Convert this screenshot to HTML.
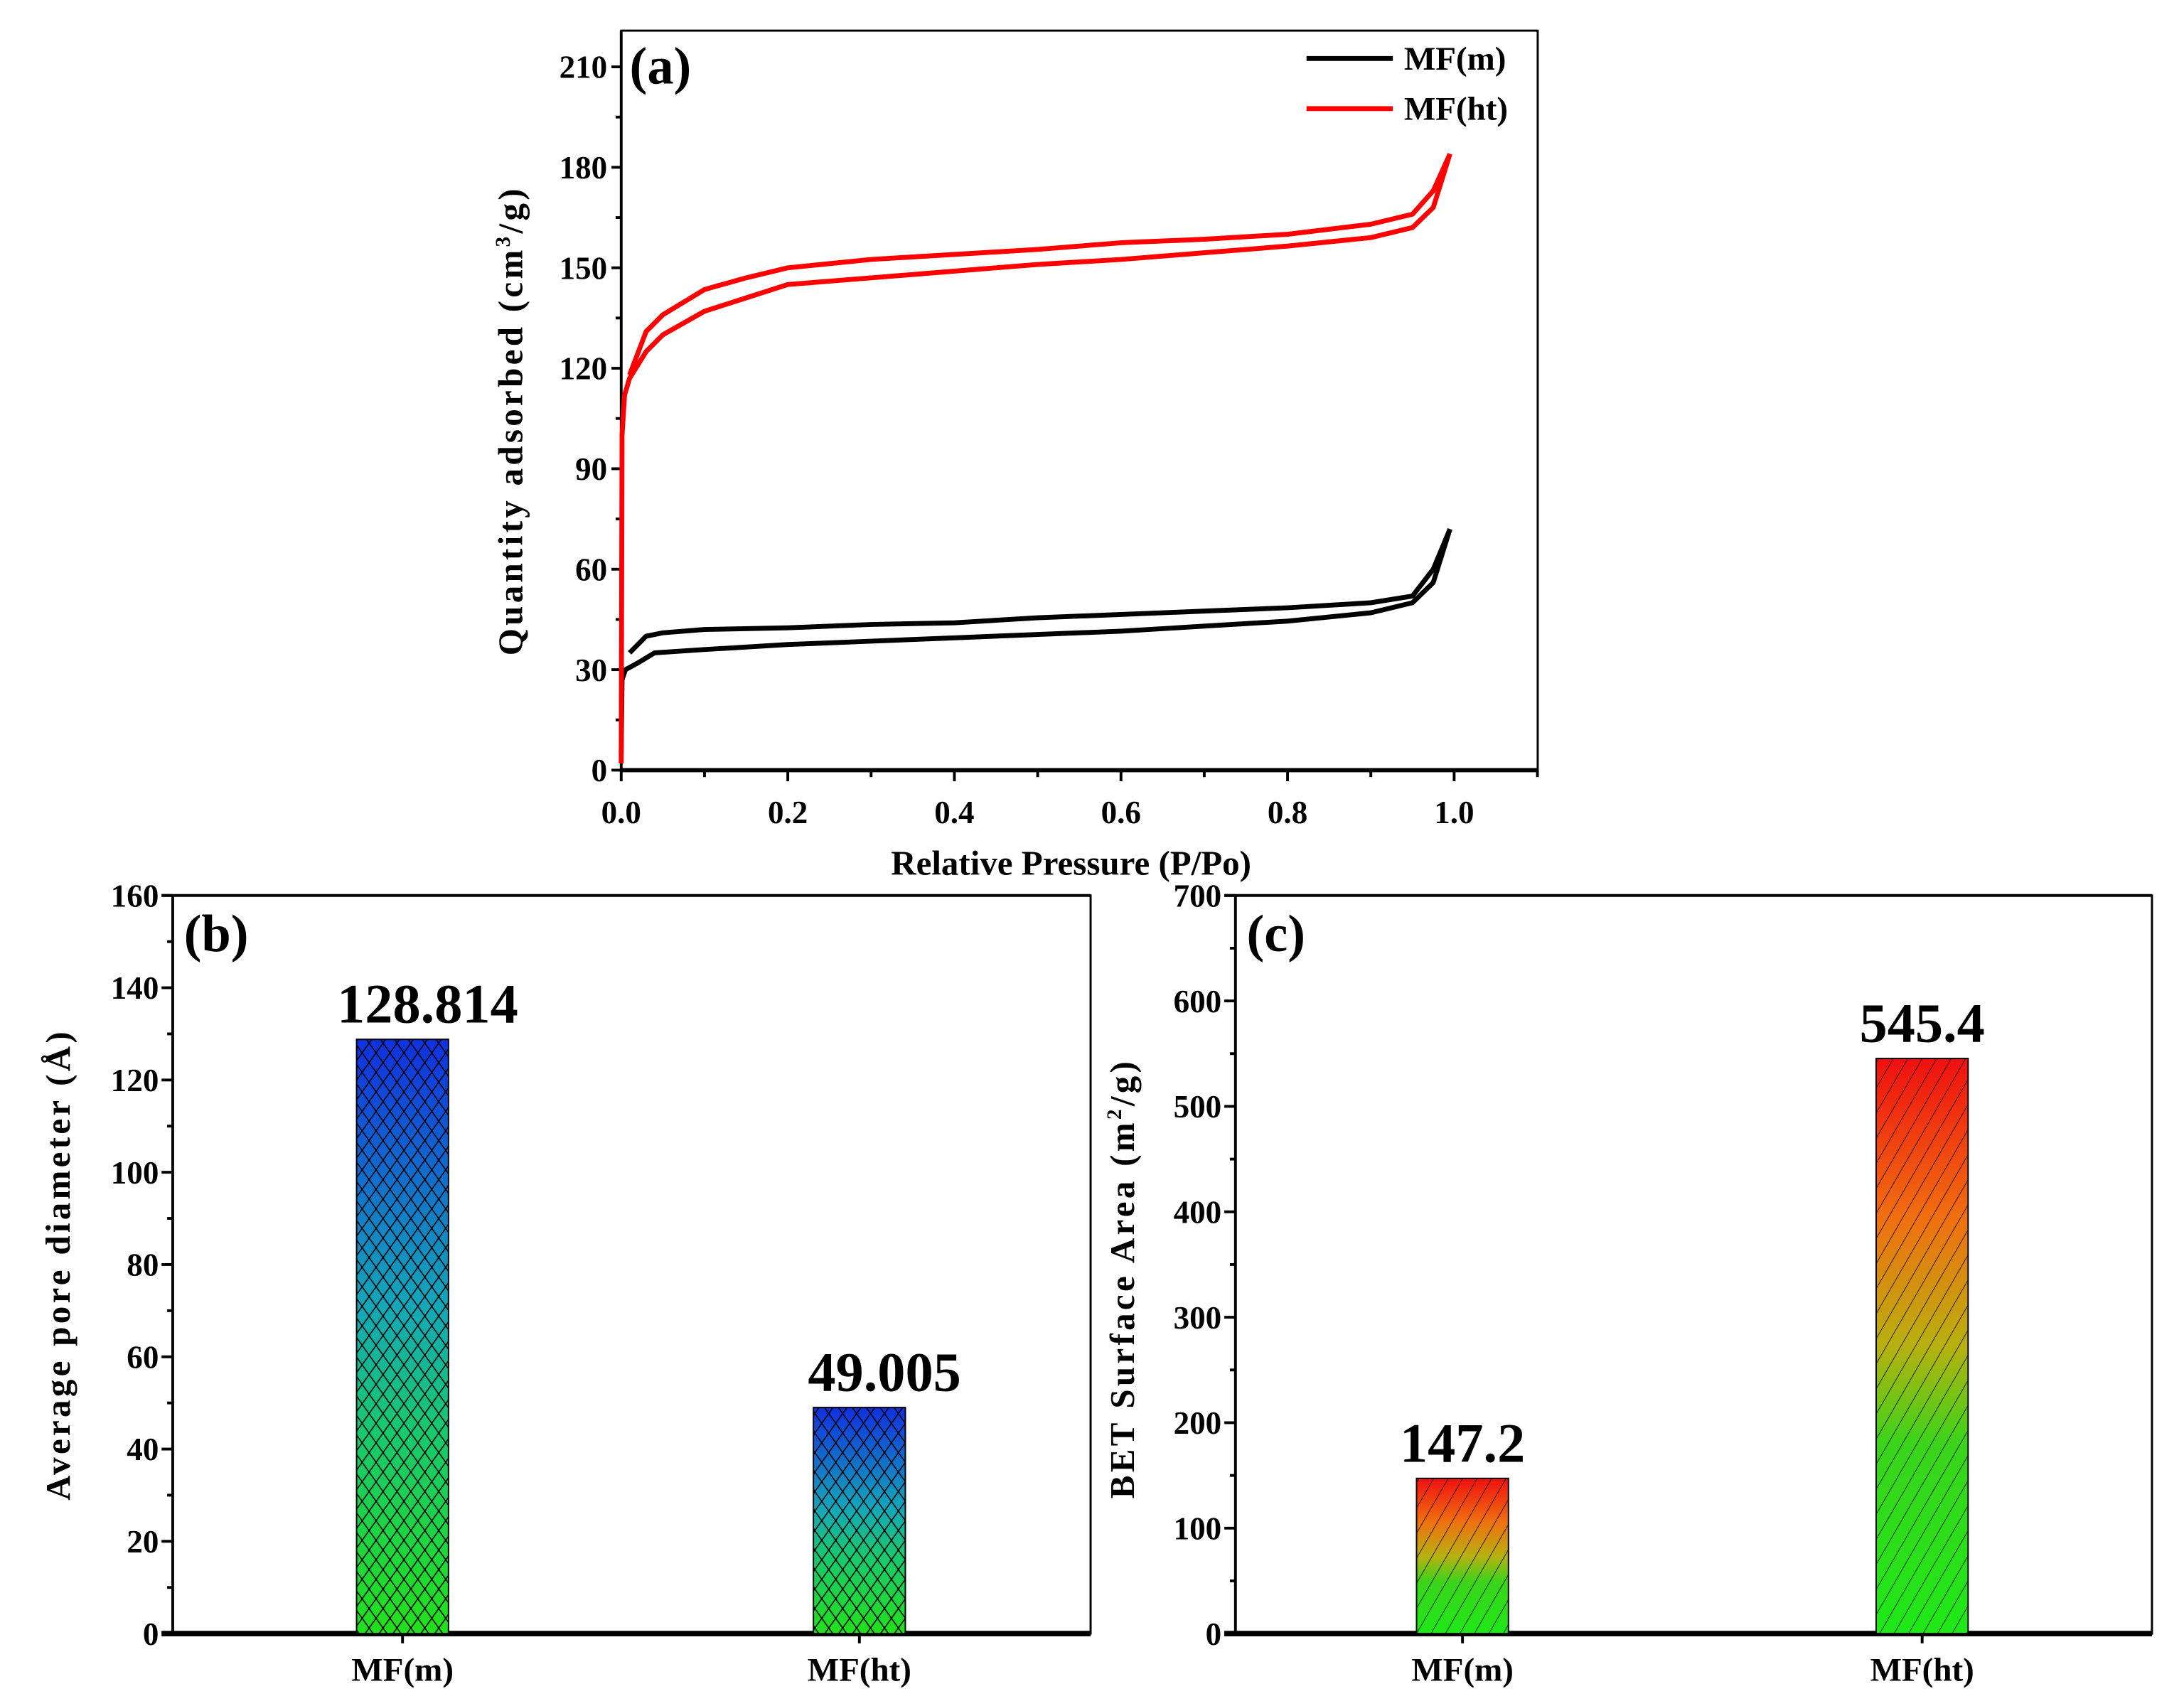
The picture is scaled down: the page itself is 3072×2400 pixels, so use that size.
<!DOCTYPE html>
<html><head><meta charset="utf-8">
<style>
html,body{margin:0;padding:0;background:#fff;}
svg{display:block;font-family:"Liberation Serif",serif;font-weight:bold;}
</style></head>
<body>
<svg id="fig" width="3072" height="2400" viewBox="0 0 1568 1225" xmlns="http://www.w3.org/2000/svg">
<defs>
  <pattern id="xhatch" width="10" height="14" patternUnits="userSpaceOnUse">
    <path d="M0 0 L10 14 M10 0 L0 14" stroke="#000" stroke-width="0.8" fill="none"/>
  </pattern>
  <pattern id="dhatch" width="9" height="9" patternUnits="userSpaceOnUse" patternTransform="rotate(30)">
    <path d="M0 0 L0 9" stroke="#000" stroke-width="0.8"/>
  </pattern>
  <linearGradient id="gradB" x1="0" y1="1" x2="0" y2="0">
    <stop offset="0" stop-color="#22e01a"/><stop offset="0.35" stop-color="#18c870"/>
    <stop offset="0.55" stop-color="#14a8b8"/><stop offset="1" stop-color="#1030e0"/>
  </linearGradient>
  <linearGradient id="gradC" x1="0" y1="1" x2="0" y2="0">
    <stop offset="0" stop-color="#1ee818"/><stop offset="0.33" stop-color="#3ad41a"/>
    <stop offset="0.5" stop-color="#b8b010"/><stop offset="0.72" stop-color="#f07010"/><stop offset="1" stop-color="#f01010"/>
  </linearGradient>
</defs>
<g id="pa"></g>
<g id="pb"></g>
<g id="pc"></g>
</svg>
<script>
// Panel (a) data
const mfmAdsP = [0,0.001,0.005,0.02,0.04,0.1,0.2,0.3,0.4,0.5,0.6,0.7,0.8,0.9,0.95,0.975,0.995];
const mfmAdsQ = [5,27,30,32,35,36,37.5,38.5,39.5,40.5,41.5,43,44.5,47,50,56,72];
const mfmDesP = [0.995,0.975,0.95,0.9,0.8,0.7,0.6,0.5,0.4,0.3,0.2,0.1,0.05,0.03,0.01];
const mfmDesQ = [72,60,52,50,48.5,47.5,46.5,45.5,44,43.5,42.5,42,41,40,35];
const mfhtAdsP = [0,0.001,0.004,0.01,0.02,0.03,0.05,0.1,0.15,0.2,0.3,0.4,0.5,0.6,0.7,0.8,0.9,0.95,0.975,0.995];
const mfhtAdsQ = [2,100,112,117,121,125,130,137,141,145,147,149,151,152.5,154.5,156.5,159,162,168,184];
const mfhtDesP = [0.995,0.975,0.95,0.9,0.8,0.7,0.6,0.5,0.4,0.3,0.2,0.15,0.1,0.05,0.03,0.01];
const mfhtDesQ = [184,173,166,163,160,158.5,157.5,155.5,154,152.5,150,147,143.5,136,131,118];
const aYTicks = [0,30,60,90,120,150,180,210];
const aXTicks = [0,0.2,0.4,0.6,0.8,1.0];
// Panel (b) data
const bCats = ["MF(m)","MF(ht)"];
const bVals = [128.814,49.005];
const bLabels = ["128.814","49.005"];
const bTicks = [0,20,40,60,80,100,120,140,160];
// Panel (c) data
const cCats = ["MF(m)","MF(ht)"];
const cVals = [147.2,545.4];
const cLabels = ["147.2","545.4"];
const cTicks = [0,100,200,300,400,500,600,700];

const NS="http://www.w3.org/2000/svg";
function mk(parent,tag,attrs,text){const e=document.createElementNS(NS,tag);for(const k in attrs)e.setAttribute(k,attrs[k]);if(text!==undefined)e.textContent=text;parent.appendChild(e);return e;}

// ---------- Panel A ----------
const A=document.getElementById('pa');
const ax0=446, ax1=1104, ay0=553, ay1=22;
const xA=v=>446+v*(1044-446);
const yA=v=>553-v*(553-48)/210;
let fr=mk(A,'rect',{x:ax0,y:ay1,width:ax1-ax0,height:ay0-ay1,fill:'none',stroke:'#000','stroke-width':1.5});


let bl=mk(A,'line',{x1:ax0,y1:ay0,x2:ax1,y2:ay0,stroke:'#000','stroke-width':3});


let ll=mk(A,'line',{x1:ax0,y1:ay0,x2:ax0,y2:ay1,stroke:'#000','stroke-width':2});


for(let v=0;v<=210;v+=15){const maj=v%30===0;const t=mk(A,'line',{x1:ax0,y1:yA(v),x2:ax0-(maj?7:4),y2:yA(v),stroke:'#000','stroke-width':2});

}
aYTicks.forEach(v=>{const t=mk(A,'text',{x:ax0-10,y:yA(v)+8,'text-anchor':'end','font-size':23},String(v));

});
for(let i=0;i<=11;i++){const v=i/10;const maj=i%2===0;const t=mk(A,'line',{x1:xA(v),y1:ay0,x2:xA(v),y2:ay0+(maj?8:5),stroke:'#000','stroke-width':2});

}
aXTicks.forEach(v=>{const t=mk(A,'text',{x:xA(v),y:591,'text-anchor':'middle','font-size':23},v.toFixed(1));

});
let xt=mk(A,'text',{x:769,y:628,'text-anchor':'middle','font-size':25},'Relative Pressure (P/Po)');


let yt=mk(A,'text',{x:0,y:0,'text-anchor':'middle','font-size':25,'letter-spacing':'2.2',transform:'translate(375,302) rotate(-90)'});


yt.innerHTML='Quantity adsorbed (cm<tspan dy="-9" font-size="15">3</tspan><tspan dy="9">/g)</tspan>';
let la=mk(A,'text',{x:452,y:60,'font-size':38},'(a)');


function series(P,Q,color,name){const d=P.map((p,i)=>(i?'L':'M')+xA(p).toFixed(1)+' '+yA(Q[i]).toFixed(1)).join(' ');
const e=mk(A,'path',{d:d,fill:'none',stroke:color,'stroke-width':3.5,'stroke-linejoin':'round'});

}
series(mfmAdsP,mfmAdsQ,'#000','mfm-adsorption-line');
series(mfmDesP,mfmDesQ,'#000','mfm-desorption-line');
series(mfhtAdsP,mfhtAdsQ,'#f00','mfht-adsorption-line');
series(mfhtDesP,mfhtDesQ,'#f00','mfht-desorption-line');
[['MF(m)','#000',42],['MF(ht)','#f00',78]].forEach(([n,c,y])=>{
const g=mk(A,'g',{});


mk(g,'line',{x1:938,y1:y,x2:1000,y2:y,stroke:c,'stroke-width':3.5});
mk(g,'text',{x:1008,y:y+8,'font-size':24},n);});

// ---------- Bar panels ----------
function barPanel(G,x0,x1,ymax,ticks,minorStep,cats,vals,labels,centers,fill,hatch,title,titleX,titleY,panelLabel,nm){
 const y0=1173,y1=643;const yS=v=>y0-v*(y0-y1)/ymax;
 let f=mk(G,'rect',{x:x0,y:y1,width:x1-x0,height:y0-y1,fill:'none',stroke:'#000','stroke-width':1.5});
 
 
 let b=mk(G,'line',{x1:x0-8,y1:y0,x2:x1,y2:y0,stroke:'#000','stroke-width':4});
 
 
 let l=mk(G,'line',{x1:x0,y1:y0,x2:x0,y2:y1,stroke:'#000','stroke-width':2});
 
 
 mk(G,'line',{x1:x0-8,y1:y1,x2:x1,y2:y1,stroke:'#000','stroke-width':2});
 for(let v=0;v<=ymax+1e-9;v+=minorStep){const maj=Math.abs(v/(minorStep*2)-Math.round(v/(minorStep*2)))<1e-6;
  const t=mk(G,'line',{x1:x0,y1:yS(v),x2:x0-(maj?8:4),y2:yS(v),stroke:'#000','stroke-width':2});
  
  }
 ticks.forEach(v=>{const t=mk(G,'text',{x:x0-10,y:yS(v)+8,'text-anchor':'end','font-size':23},String(v));
  
  });
 cats.forEach((c,i)=>{const cx=centers[i];const top=yS(vals[i]);
  const r=mk(G,'rect',{x:cx-33,y:top,width:66,height:y0-top,fill:fill,stroke:'#000','stroke-width':1});
  
  
  const h=mk(G,'rect',{x:cx-33,y:top,width:66,height:y0-top,fill:hatch});
  
  
  const vl=mk(G,'text',{x:cx+(nm==='b'?18:0),y:top-12,'text-anchor':'middle','font-size':40},labels[i]);
  
  
  const cl=mk(G,'text',{x:cx,y:1207,'text-anchor':'middle','font-size':24},c);
  
  
  const tk=mk(G,'line',{x1:cx,y1:y0,x2:cx,y2:y0+7,stroke:'#000','stroke-width':2});
  
  });
 const t=mk(G,'text',{x:0,y:0,'text-anchor':'middle','font-size':25,'letter-spacing':'2.2',transform:'translate('+titleX+','+titleY+') rotate(-90)'});
 
 
 t.innerHTML=title;
 const pl=mk(G,'text',{x:x0+8,y:683,'font-size':38},panelLabel);
 
 
}
barPanel(document.getElementById('pb'),124,783,160,bTicks,10,bCats,bVals,bLabels,[289,617],'url(#gradB)','url(#xhatch)','Average pore diameter (Å)',50,908,'(b)','b');
barPanel(document.getElementById('pc'),887,1545,700,cTicks,50,cCats,cVals,cLabels,[1050,1380],'url(#gradC)','url(#dhatch)','BET Surface Area (m<tspan dy="-9" font-size="15">2</tspan><tspan dy="9">/g)</tspan>',814,918,'(c)','c');
</script>
</body></html>
